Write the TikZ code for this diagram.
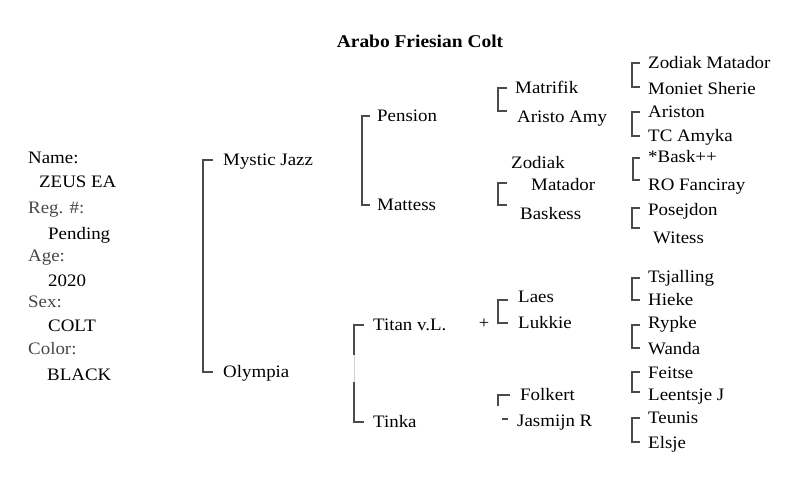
\documentclass[tikz,border=0pt]{standalone}
\usepackage{fontspec}
\setmainfont[FakeStretch=1.08]{Liberation Serif}
\usepackage{tikz}
\definecolor{brkgray}{RGB}{75,75,75}
\definecolor{lblgray}{RGB}{70,70,70}

\begin{document}
\begin{tikzpicture}[
			x=1pt, y=-1pt,
			horse/.style={anchor=west, inner sep=0pt, text height=11.5pt, text depth=0.5pt, font=\fontsize{17.5}{20}\selectfont},
			lbl/.style={horse, text=lblgray},
			brk/.style={draw=brkgray, line width=1.6pt},
			title/.style={font=\fontsize{18}{20}\selectfont\bfseries}
		]
			\useasboundingbox (0,0) rectangle (808,492);
			\node[title] (ttl) at (420,41) {Arabo Friesian Colt};
			% left column
			\node[horse] (nm) at (28,158) {Name:};
			\node[horse] (nmv) at (39,182) {ZEUS EA};
			\node[lbl] (rg) at (28,208) {Reg. \#:};
			\node[horse] (rgv) at (48,234) {Pending};
			\node[lbl] (ag) at (28,256) {Age:};
			\node[horse] (agv) at (48,281) {2020};
			\node[lbl] (sx) at (28,302) {Sex:};
			\node[horse] (sxv) at (48,326) {COLT};
			\node[lbl] (cl) at (28,349) {Color:};
			\node[horse] (clv) at (47,375) {BLACK};
			% parents
			\node[horse] (mj) at (223,160) {Mystic Jazz};
			\node[horse] (oly) at (223,372) {Olympia};
			\draw[brk] ([xshift=-10pt]mj.west) -| ([xshift=-20pt]oly.west) -- ([xshift=-10pt]oly.west);
			% grandparents
			\node[horse] (pen) at (377,116) {Pension};
			\node[horse] (mat) at (377,205) {Mattess};
			\node[horse] (tit) at (373,325) {Titan v.L.};
			\node[horse] (tin) at (373,422) {Tinka};
			\draw[brk] ([xshift=-7pt]pen.west) -| ([xshift=-15pt]mat.west) -- ([xshift=-7pt]mat.west);
			\draw[brk] ([xshift=-9pt]tit.west) -| ([xshift=-19pt,yshift=-30pt]tit.west);
			\draw[brk] ([xshift=-19pt,yshift=40pt]tin.west) |- ([xshift=-9pt]tin.west);
			\draw[draw=brkgray!25, line width=1pt] ([xshift=-19pt,yshift=-30pt]tit.west) -- ([xshift=-19pt,yshift=40pt]tin.west);
			% great-grandparents
			\node[horse] (mfk) at (515,88) {Matrifik};
			\node[horse] (ara) at (517,117) {Aristo Amy};
			\node[horse] (zodA) at (511,163) {Zodiak};
			\node[horse] (zodB) at (531,185) {Matador};
			\node[horse] (bsk) at (520,214) {Baskess};
			\node[horse] (laes) at (518,297) {Laes};
			\node[horse] (luk) at (518,323) {Lukkie};
			\node[horse] (folk) at (520,395) {Folkert};
			\node[horse] (jas) at (517,421) {Jasmijn R};
			\node[inner sep=0pt, font=\fontsize{17}{17}\selectfont] (plus) at (484,324) {+};
			\draw[brk] ([xshift=-8pt]mfk.west) -| ([xshift=-19pt,yshift=6pt]ara.west) -- ([xshift=-10pt,yshift=6pt]ara.west);
			\draw[brk] ([xshift=-24pt,yshift=2pt]zodB.west) -| ([xshift=-22pt,yshift=9pt]bsk.west) -- ([xshift=-13pt,yshift=9pt]bsk.west);
			\draw[brk] ([xshift=-10pt,yshift=-3pt]laes.west) -| ([xshift=-20pt]luk.west) -- ([xshift=-10pt]luk.west);
			\draw[brk] ([xshift=-10pt]folk.west) -| ([xshift=-22pt,yshift=-11pt]folk.west);
			\draw[brk] ([xshift=-15pt,yshift=2pt]jas.west) -- ([xshift=-9pt,yshift=2pt]jas.west);
			% great-great-grandparents
			\node[horse] (zm) at (648,63) {Zodiak Matador};
			\node[horse] (mon) at (648,89) {Moniet Sherie};
			\node[horse] (arn) at (648,112) {Ariston};
			\node[horse] (tca) at (648,136) {TC Amyka};
			\node[horse] (bsp) at (648,157) {*Bask++};
			\node[horse] (rof) at (648,185) {RO Fanciray};
			\node[horse] (pos) at (648,210) {Posejdon};
			\node[horse] (wit) at (653,238) {Witess};
			\node[horse] (tsj) at (648,277) {Tsjalling};
			\node[horse] (hie) at (648,300) {Hieke};
			\node[horse] (ryp) at (648,323) {Rypke};
			\node[horse] (wan) at (648,349) {Wanda};
			\node[horse] (fei) at (648,373) {Feitse};
			\node[horse] (lee) at (648,395) {Leentsje J};
			\node[horse] (teu) at (648,418) {Teunis};
			\node[horse] (els) at (648,443) {Elsje};
			\draw[brk] ([xshift=-8pt]zm.west) -| ([xshift=-16pt,yshift=2pt]mon.west) -- ([xshift=-8pt,yshift=2pt]mon.west);
			\draw[brk] ([xshift=-8pt]arn.west) -| ([xshift=-16pt]tca.west) -- ([xshift=-8pt]tca.west);
			\draw[brk] ([xshift=-8pt,yshift=-1pt]bsp.west) -| ([xshift=-15pt,yshift=5pt]rof.west) -- ([xshift=-8pt,yshift=5pt]rof.west);
			\draw[brk] ([xshift=-8pt,yshift=2pt]pos.west) -| ([xshift=-21pt,yshift=10pt]wit.west) -- ([xshift=-13pt,yshift=10pt]wit.west);
			\draw[brk] ([xshift=-8pt,yshift=-1pt]tsj.west) -| ([xshift=-16pt]hie.west) -- ([xshift=-8pt]hie.west);
			\draw[brk] ([xshift=-8pt,yshift=-2pt]ryp.west) -| ([xshift=-16pt,yshift=1pt]wan.west) -- ([xshift=-8pt,yshift=1pt]wan.west);
			\draw[brk] ([xshift=-8pt,yshift=1pt]fei.west) -| ([xshift=-16pt,yshift=3pt]lee.west) -- ([xshift=-8pt,yshift=3pt]lee.west);
			\draw[brk] ([xshift=-8pt]teu.west) -| ([xshift=-16pt,yshift=1pt]els.west) -- ([xshift=-8pt,yshift=1pt]els.west);
		\end{tikzpicture}
\end{document}
